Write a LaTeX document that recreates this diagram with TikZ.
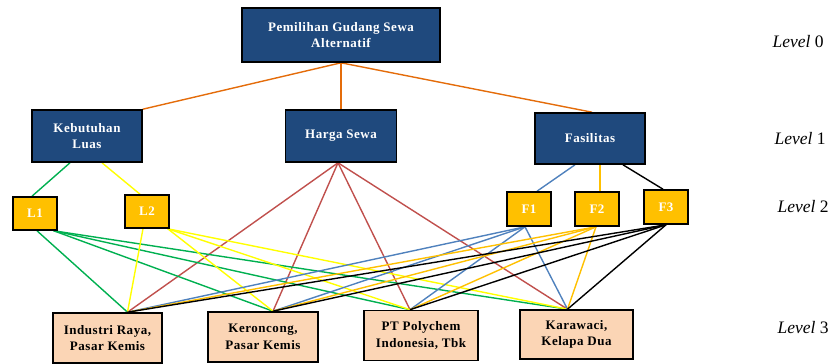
\documentclass[tikz,border=0pt]{standalone}
\usepackage{fontspec}
\setmainfont{Liberation Serif}
\usetikzlibrary{backgrounds}
\definecolor{navy}{HTML}{1F497D}
\definecolor{gold}{HTML}{FFC000}
\definecolor{peach}{HTML}{FBD5B5}
\definecolor{lorange}{HTML}{E46C0A}
\definecolor{lgreen}{HTML}{00B050}
\definecolor{lyellow}{HTML}{FFFF00}
\definecolor{lred}{HTML}{C0504D}
\definecolor{lblue}{HTML}{4F81BD}
\begin{document}
\begin{tikzpicture}[x=1pt,y=-1pt,
  boxfont/.style={font=\bfseries\fontsize{13}{16.5}\selectfont\addfontfeatures{LetterSpace=4}},
  crit/.style={boxfont,draw=black,line width=1.6pt,fill=navy,text=white,align=center,
    minimum width=110pt,minimum height=52pt,inner sep=0pt},
  sub/.style={boxfont,draw=black,line width=1.6pt,fill=gold,text=white,
    minimum width=44pt,minimum height=33pt,inner sep=0pt},
  alt/.style={boxfont,draw=black,line width=1.6pt,fill=peach,text=black,align=center,
    minimum width=110pt,minimum height=50pt,inner sep=0pt},
  lvl/.style={font=\fontsize{17.5}{20}\selectfont,anchor=west},
  conn/.style={line width=1.4pt}
]
\useasboundingbox (0,0) rectangle (836,364);
% level 0
\node[crit,minimum width=198pt,minimum height=54pt] (goal) at (341,35) {Pemilihan Gudang Sewa\\Alternatif};
% level 1
\node[crit] (kl) at (87,136) {Kebutuhan\\Luas};
\node[crit,minimum width=111pt] (hs) at (341,136) {Harga Sewa};
\node[crit,minimum height=51pt] (fa) at (590,138.5) {Fasilitas};
% level 2
\node[sub] (l1) at (35,213.5) {L1};
\node[sub] (l2) at (147,211.5) {L2};
\node[sub,minimum height=34pt] (f1) at (529,209) {F1};
\node[sub,minimum height=34pt] (f2) at (597,209) {F2};
\node[sub,minimum height=34pt] (f3) at (666,207) {F3};
% level 3
\node[alt,minimum width=109pt] (a1) at (107.5,338) {Industri Raya,\\Pasar Kemis};
\node[alt] (a2) at (263,337) {Keroncong,\\Pasar Kemis};
\node[alt,minimum width=114pt] (a3) at (421,335.5) {PT Polychem\\Indonesia, Tbk};
\node[alt,minimum width=113pt,minimum height=49pt] (a4) at (576.5,334.5) {Karawaci,\\Kelapa Dua};
% level labels
\node[lvl] (lv0) at (769,42) {\textit{Level} 0};
\node[lvl] (lv1) at (771,139) {\textit{Level} 1};
\node[lvl] (lv2) at (774,207) {\textit{Level} 2};
\node[lvl] (lv3) at (774,328) {\textit{Level} 3};
% target points on level 3
\coordinate (t1) at ([xshift=20pt]a1.north);
\coordinate (t2) at ([xshift=10pt]a2.north);
\coordinate (t3) at ([xshift=-11pt]a3.north);
\coordinate (t4) at ([xshift=-9pt]a4.north);
\begin{scope}[on background layer]
  % goal to criteria
  \draw[conn,lorange] (goal.south) -- (kl.north east);
  \draw[conn,lorange] (goal.south) -- (hs.north);
  \draw[conn,lorange] (goal.south) -- ([xshift=2pt]fa.north);
  % criteria to sub-criteria
  \draw[conn,lgreen] ([xshift=-17pt]kl.south) -- ([xshift=-3pt]l1.north);
  \draw[conn,lyellow] ([xshift=15pt]kl.south) -- ([xshift=-7pt]l2.north);
  \draw[conn,lblue] ([xshift=-15pt]fa.south) -- ([xshift=8pt]f1.north);
  \draw[conn,gold] ([xshift=10pt]fa.south) -- ([xshift=3pt]f2.north);
  \draw[conn,black] ([xshift=33pt]fa.south) -- ([xshift=-3pt]f3.north);
  % harga sewa to alternatives
  \foreach \t in {t1,t2,t3,t4} \draw[conn,lred] ([xshift=-3pt]hs.south) -- (\t);
  % L1
  \draw[conn,lgreen] ([xshift=2pt]l1.south) -- (t1);
  \foreach \t in {t2,t3,t4} \draw[conn,lgreen] ([xshift=-4pt]l1.south east) -- (\t);
  % L2
  \draw[conn,lyellow] ([xshift=-4pt]l2.south) -- (t1);
  \foreach \t in {t2,t3,t4} \draw[conn,lyellow] ([xshift=-2pt]l2.south east) -- (\t);
  % F1, F2, F3
  \foreach \t in {t1,t2,t3,t4} \draw[conn,lblue] ([xshift=-4pt]f1.south) -- (\t);
  \foreach \t in {t1,t2,t3,t4} \draw[conn,gold] ([xshift=-1pt]f2.south) -- (\t);
  \foreach \t in {t1,t2,t3,t4} \draw[conn,black] (f3.south) -- (\t);
\end{scope}
\end{tikzpicture}
\end{document}
